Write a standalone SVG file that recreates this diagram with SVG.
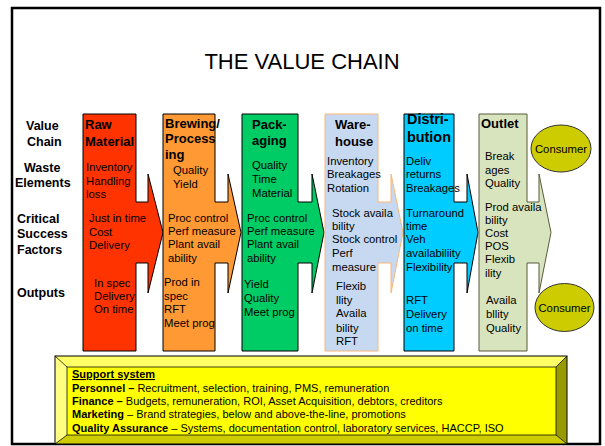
<svg xmlns="http://www.w3.org/2000/svg" width="605" height="446" viewBox="0 0 605 446">
  <style>
    text { font-family: "Liberation Sans", Arial, sans-serif; fill: #000; }
    .lbl { font-size: 12.5px; font-weight: bold; }
    .hd { font-size: 13px; font-weight: bold; }
    .t { font-size: 11.3px; }
    .col { stroke: #000; stroke-width: 1; stroke-linejoin: miter; }
    .sup { font-size: 11px; }
    .b { font-weight: bold; }
  </style>

  <!-- slide frame -->
  <rect x="12" y="8" width="588" height="436" fill="#fff" stroke="#000" stroke-width="2.5"/>

  <text x="302" y="69" font-size="22" text-anchor="middle">THE VALUE CHAIN</text>

  <!-- row labels -->
  <g id="row-labels">
    <text class="lbl" x="26" y="130">Value</text>
    <text class="lbl" x="27" y="146">Chain</text>
    <text class="lbl" x="24" y="172">Waste</text>
    <text class="lbl" x="15" y="187">Elements</text>
    <text class="lbl" x="17" y="223">Critical</text>
    <text class="lbl" x="17" y="238">Success</text>
    <text class="lbl" x="17" y="254">Factors</text>
    <text class="lbl" x="17" y="297">Outputs</text>
  </g>

  <!-- chain stages: box with right-arrow callout -->
  <g id="raw-material">
    <path class="col" fill="#ff3300" d="M83,114 H136 V202 H148 V174 L163,232.5 L148,293 V263 H136 V351 H83 Z"/>
    <text class="hd" x="85" y="129">Raw</text>
    <text class="hd" x="85" y="146">Material</text>
    <text class="t" x="86" y="171">Inventory</text>
    <text class="t" x="86" y="185">Handling</text>
    <text class="t" x="86" y="198">loss</text>
    <text class="t" x="89" y="222">Just in time</text>
    <text class="t" x="89" y="236">Cost</text>
    <text class="t" x="89" y="249">Delivery</text>
    <text class="t" x="94" y="287">In spec</text>
    <text class="t" x="94" y="300">Delivery</text>
    <text class="t" x="94" y="313">On time</text>
  </g>

  <g id="brewing">
    <path class="col" fill="#ff9933" d="M163,114 H215 V202 H228 V174 L241,232.5 L228,293 V263 H215 V351 H163 Z"/>
    <text class="hd" x="165" y="128">Brewing/</text>
    <text class="hd" x="165" y="143">Process</text>
    <text class="hd" x="165" y="159">ing</text>
    <text class="t" x="173" y="174">Quality</text>
    <text class="t" x="173" y="188">Yield</text>
    <text class="t" x="168" y="222">Proc control</text>
    <text class="t" x="168" y="235">Perf measure</text>
    <text class="t" x="168" y="248">Plant avail</text>
    <text class="t" x="168" y="262">ability</text>
    <text class="t" x="164" y="286">Prod in</text>
    <text class="t" x="164" y="300">spec</text>
    <text class="t" x="164" y="313">RFT</text>
    <text class="t" x="164" y="327">Meet prog</text>
  </g>

  <g id="packaging">
    <path class="col" fill="#00cc66" d="M242,114 H298 V202 H312 V174 L324,232.5 L312,293 V263 H298 V351 H242 Z"/>
    <text class="hd" x="252" y="129">Pack-</text>
    <text class="hd" x="252" y="145">aging</text>
    <text class="t" x="252" y="169">Quality</text>
    <text class="t" x="252" y="183">Time</text>
    <text class="t" x="252" y="197">Material</text>
    <text class="t" x="247" y="222">Proc control</text>
    <text class="t" x="247" y="235">Perf measure</text>
    <text class="t" x="247" y="248">Plant avail</text>
    <text class="t" x="247" y="262">ability</text>
    <text class="t" x="244" y="288">Yield</text>
    <text class="t" x="244" y="302">Quality</text>
    <text class="t" x="244" y="316">Meet prog</text>
  </g>

  <g id="warehouse">
    <path fill="#c6d9f1" stroke="#f9b77a" stroke-width="1" d="M325,114 H378 V202 H391 V174 L403,232.5 L391,293 V263 H378 V351 H325 Z"/>
    <text class="hd" x="335" y="129">Ware-</text>
    <text class="hd" x="335" y="146">house</text>
    <text class="t" x="327" y="165">Inventory</text>
    <text class="t" x="327" y="178">Breakages</text>
    <text class="t" x="327" y="192">Rotation</text>
    <text class="t" x="332" y="217">Stock availa</text>
    <text class="t" x="332" y="230">bility</text>
    <text class="t" x="332" y="243">Stock control</text>
    <text class="t" x="332" y="257">Perf</text>
    <text class="t" x="332" y="271">measure</text>
    <text class="t" x="336" y="290">Flexib</text>
    <text class="t" x="336" y="304">llity</text>
    <text class="t" x="336" y="317">Availa</text>
    <text class="t" x="336" y="332">bility</text>
    <text class="t" x="336" y="345">RFT</text>
  </g>

  <g id="distribution">
    <path class="col" fill="#00ccff" d="M404,114 H454 V202 H467 V174 L478,232.5 L467,293 V263 H454 V351 H404 Z"/>
    <text x="407" y="124" font-size="14.4" font-weight="bold">Distri-</text>
    <text x="407" y="142" font-size="14.4" font-weight="bold">bution</text>
    <text class="t" x="406" y="165">Deliv</text>
    <text class="t" x="406" y="178">returns</text>
    <text class="t" x="406" y="192">Breakages</text>
    <text class="t" x="406" y="217">Turnaround</text>
    <text class="t" x="406" y="230">time</text>
    <text class="t" x="406" y="243">Veh</text>
    <text class="t" x="406" y="257">availabiliity</text>
    <text class="t" x="406" y="271">Flexibility</text>
    <text class="t" x="406" y="304">RFT</text>
    <text class="t" x="406" y="318">Delivery</text>
    <text class="t" x="406" y="332">on time</text>
  </g>

  <g id="outlet">
    <path fill="#d7e4bd" stroke="#5a5a3c" stroke-width="1" d="M479,114 H527 V202 H539 V174 L551,232.5 L539,293 V263 H527 V351 H479 Z"/>
    <text class="hd" x="481" y="128">Outlet</text>
    <text class="t" x="485" y="160">Break</text>
    <text class="t" x="485" y="174">ages</text>
    <text class="t" x="485" y="187">Quality</text>
    <text class="t" x="485" y="211">Prod availa</text>
    <text class="t" x="485" y="224">bility</text>
    <text class="t" x="485" y="237">Cost</text>
    <text class="t" x="485" y="250">POS</text>
    <text class="t" x="485" y="263">Flexib</text>
    <text class="t" x="485" y="277">ility</text>
    <text class="t" x="486" y="304">Availa</text>
    <text class="t" x="486" y="318">bllity</text>
    <text class="t" x="486" y="332">Quality</text>
  </g>

  <g id="consumer-top">
    <ellipse cx="561" cy="148.5" rx="30" ry="23.5" fill="#cccc00" stroke="#333" stroke-width="1"/>
    <text class="t" x="561" y="152.5" text-anchor="middle">Consumer</text>
  </g>
  <g id="consumer-bottom">
    <ellipse cx="564.5" cy="307.5" rx="29.5" ry="24" fill="#cccc00" stroke="#333" stroke-width="1"/>
    <text class="t" x="564.5" y="311.5" text-anchor="middle">Consumer</text>
  </g>

  <!-- support system: bevelled panel -->
  <g id="support-system">
    <polygon points="55,356 567,356 556,367 67,367" fill="#ffff66"/>
    <polygon points="55,356 67,367 67,435 55,444" fill="#ffff80"/>
    <polygon points="567,356 567,444 556,435 556,367" fill="#999900"/>
    <polygon points="55,444 567,444 556,435 67,435" fill="#cccc00"/>
    <rect x="67" y="367" width="489" height="68" fill="#ffff00" stroke="#000" stroke-width="0.75"/>
    <rect x="55" y="356" width="512" height="88" fill="none" stroke="#000" stroke-width="1"/>
    <path d="M55,356 L67,367 M567,356 L556,367 M55,444 L67,435 M567,444 L556,435" stroke="#000" stroke-width="0.75"/>
    <text class="sup b" x="72" y="378" text-decoration="underline">Support system</text>
    <text class="sup" x="72" y="392"><tspan class="b">Personnel –</tspan> Recruitment, selection, training, PMS, remuneration</text>
    <text class="sup" x="72" y="405"><tspan class="b">Finance –</tspan> Budgets, remuneration, ROI, Asset Acquisition, debtors, creditors</text>
    <text class="sup" x="72" y="418"><tspan class="b">Marketing</tspan> – Brand strategies, below and above-the-line, promotions</text>
    <text class="sup" x="72" y="432"><tspan class="b">Quality Assurance</tspan> – Systems, documentation control, laboratory services, HACCP, ISO</text>
  </g>
</svg>
